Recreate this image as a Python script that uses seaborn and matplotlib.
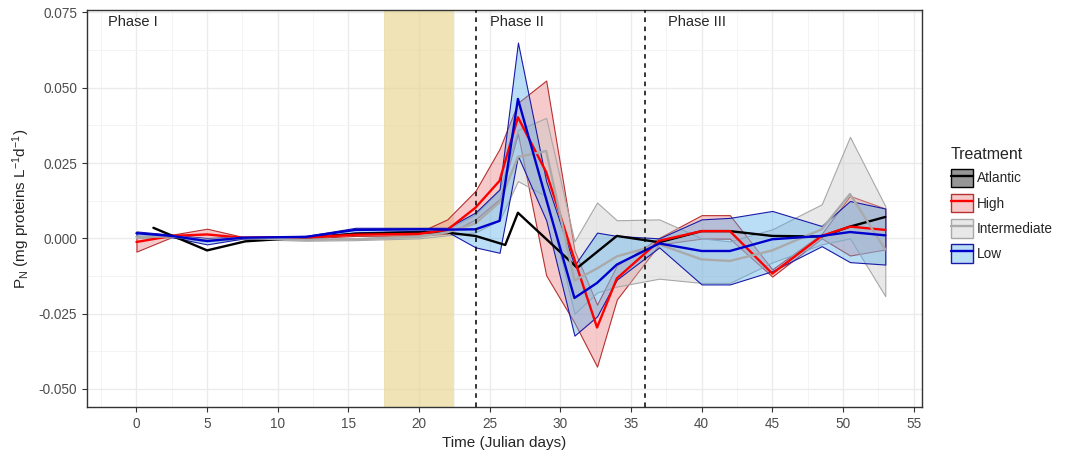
import numpy as np
import pandas as pd
import seaborn as sns
import matplotlib.pyplot as plt
from matplotlib.patches import Patch
from matplotlib.lines import Line2D
from matplotlib.legend_handler import HandlerTuple

# Jours d'échantillonnage
days_atl = [1.2, 5, 7.7, 12, 15.5, 20, 22, 24, 26.1, 27, 31.2, 34, 37, 40, 42, 45, 48.5, 50.5, 53]
days = [0, 2.5, 5, 7.5, 12, 15.5, 20, 22, 24, 25.7, 27, 29, 31, 32.6, 34, 37, 40, 42, 45, 48.5, 50.5, 53]

# Atlantic (pas de ruban visible)
atl_mean = [0.0035, -0.004, -0.001, 0.0003, 0.0015, 0.002, 0.0019, 0.0008, -0.0022, 0.0085,
            -0.0098, 0.0008, -0.0013, 0.0024, 0.0024, 0.0008, 0.0006, 0.0039, 0.0071]

# High
high_mean = [-0.0012, 0.0008, 0.0013, 0.0002, 0.0003, 0.0012, 0.0015, 0.0028, 0.0102, 0.0191, 0.0402,
             0.022, -0.007, -0.0296, -0.0133, -0.0008, 0.0024, 0.0024, -0.0117, 0.0008, 0.0039, 0.0028]
high_hi = [0.0002, 0.0012, 0.0032, 0.0005, 0.0006, 0.0016, 0.002, 0.0063, 0.0158, 0.0297, 0.045,
           0.0524, -0.004, -0.022, -0.009, 0.0002, 0.0077, 0.0077, -0.0103, 0.0015, 0.0141, 0.0099]
high_lo = [-0.0044, 0.0004, -0.0003, -0.0001, 0.0, 0.0008, 0.001, 0.0015, 0.0063, 0.013, 0.0347,
           -0.0123, -0.028, -0.0426, -0.0203, -0.002, -0.0001, -0.0001, -0.0127, 0.0, -0.0057, -0.0037]

# Intermediate
int_mean = [0.0005, 0.0006, -0.0005, 0.0001, -0.0005, -0.0003, 0.0005, 0.002, 0.005, 0.012, 0.027,
            0.029, -0.014, -0.010, -0.006, -0.002, -0.007, -0.0075, -0.004, 0.003, 0.0147, -0.0037]
int_hi = [0.0009, 0.0009, 0.0, 0.0004, -0.0002, 0.0, 0.001, 0.003, 0.008, 0.016, 0.036,
          0.040, -0.001, 0.0119, 0.006, 0.0063, 0.0, -0.001, 0.003, 0.0113, 0.0337, 0.0107]
int_lo = [0.0001, 0.0003, -0.001, -0.0002, -0.0008, -0.0006, 0.0, 0.001, 0.002, 0.006, 0.019,
          0.014, -0.025, -0.018, -0.016, -0.0134, -0.0148, -0.0148, -0.008, -0.002, 0.0, -0.0192]

# Low
low_mean = [0.0017, 0.0008, -0.0009, 0.0002, 0.0005, 0.0028, 0.003, 0.0029, 0.003, 0.0058, 0.0463,
            0.013, -0.0198, -0.0148, -0.0087, -0.0017, -0.0042, -0.0042, -0.0003, 0.0008, 0.0021, 0.001]
low_hi = [0.0023, 0.0012, 0.0001, 0.0005, 0.0008, 0.0035, 0.0035, 0.0035, 0.0086, 0.0163, 0.065,
          0.019, -0.009, 0.0019, 0.0008, 0.0, 0.0063, 0.0068, 0.0091, 0.0041, 0.0124, 0.0099]
low_lo = [0.0008, 0.0004, -0.002, -0.0001, 0.0002, 0.002, 0.0025, 0.0022, -0.003, -0.0048, 0.0274,
          0.006, -0.0323, -0.0259, -0.0137, -0.003, -0.0153, -0.0153, -0.0109, -0.0026, -0.0079, -0.0087]

treatments = ["Atlantic", "High", "Intermediate", "Low"]
line_col = {"Atlantic": "#000000", "High": "#FF0000", "Intermediate": "#AAAAAA", "Low": "#0000CD"}
fill_col = {"Atlantic": (0.45, 0.45, 0.45, 0.75), "High": (0.91, 0.46, 0.46, 0.38),
            "Intermediate": (0.78, 0.78, 0.78, 0.4), "Low": (0.34, 0.68, 0.92, 0.4)}
edge_col = {"Atlantic": "#000000", "High": "#B83030", "Intermediate": "#A8A8A8", "Low": "#1A1AA8"}

df = pd.concat([
    pd.DataFrame({"day": days_atl, "mean": atl_mean, "treatment": "Atlantic"}),
    pd.DataFrame({"day": days, "mean": high_mean, "lo": high_lo, "hi": high_hi, "treatment": "High"}),
    pd.DataFrame({"day": days, "mean": int_mean, "lo": int_lo, "hi": int_hi, "treatment": "Intermediate"}),
    pd.DataFrame({"day": days, "mean": low_mean, "lo": low_lo, "hi": low_hi, "treatment": "Low"}),
], ignore_index=True)

sns.set_style("white")
plt.rcParams['font.family'] = ['Liberation Sans', 'DejaVu Sans']
plt.rcParams['mathtext.default'] = 'regular'

fig = plt.figure(figsize=(10.74, 4.57), dpi=100)
ax = fig.add_axes([0.081, 0.1094, 0.7775, 0.8686])

# grille façon ggplot
ax.set_xticks(np.arange(0, 56, 5))
ax.set_xticks(np.arange(-2.5, 56, 5), minor=True)
ax.set_yticks([-0.05, -0.025, 0, 0.025, 0.05, 0.075])
ax.set_yticks(np.arange(-0.0375, 0.07, 0.025), minor=True)
ax.set_xlim(-3.5, 55.6)
ax.set_ylim(-0.056, 0.0758)
ax.grid(True, which='major', color='#EBEBEB', linewidth=1.0, zorder=0)
ax.grid(True, which='minor', color='#F2F2F2', linewidth=0.6, zorder=0)
ax.set_axisbelow(True)

# période ombrée
ax.axvspan(17.5, 22.5, color='#E8D58F', alpha=0.65, linewidth=0, zorder=1)

# rubans
for t in ["High", "Intermediate", "Low"]:
    d = df[df["treatment"] == t]
    ax.fill_between(d["day"], d["lo"], d["hi"], facecolor=fill_col[t],
                    edgecolor=edge_col[t], linewidth=0.8, zorder=2)

sns.lineplot(data=df, x="day", y="mean", hue="treatment", hue_order=treatments,
             palette=line_col, linewidth=1.7, estimator=None, sort=False,
             legend=False, ax=ax, zorder=3)

ax.axvline(24, color='black', linestyle=(0, (3, 3)), linewidth=1.1, zorder=4)
ax.axvline(36, color='black', linestyle=(0, (3, 3)), linewidth=1.1, zorder=4)

ax.text(-2.0, 0.0718, "Phase I", fontsize=10.5, va='center', ha='left')
ax.text(25.0, 0.0718, "Phase II", fontsize=10.5, va='center', ha='left')
ax.text(37.6, 0.0718, "Phase III", fontsize=10.5, va='center', ha='left')

ax.set_yticklabels(["-0.050", "-0.025", "0.000", "0.025", "0.050", "0.075"])
ax.tick_params(axis='both', which='major', labelsize=9.8, labelcolor='#4D4D4D',
               color='#333333', length=3.5, width=0.8, direction='out',
               bottom=True, left=True)
ax.tick_params(axis='both', which='minor', length=0)
for s in ax.spines.values():
    s.set_color('#333333')
    s.set_linewidth(1.0)

ax.set_xlabel("Time (Julian days)", fontsize=11, labelpad=4)
ax.set_ylabel("P$_N$ (mg proteins L$^{-1}$d$^{-1}$)", fontsize=11, labelpad=5)

handles = [(Patch(facecolor=fill_col[t], edgecolor=edge_col[t], linewidth=1.0),
            Line2D([], [], color=line_col[t], linewidth=1.7)) for t in treatments]
leg = fig.legend(handles, treatments, title="Treatment", loc='upper left',
                 bbox_to_anchor=(0.874, 0.705), frameon=False, fontsize=9.8,
                 title_fontsize=11.5, handler_map={tuple: HandlerTuple(ndivide=1, pad=0)},
                 handlelength=1.6, handleheight=1.7, handletextpad=0.3, labelspacing=0.5)
leg._legend_box.align = "left"

fig.savefig("out.png", dpi=100)
